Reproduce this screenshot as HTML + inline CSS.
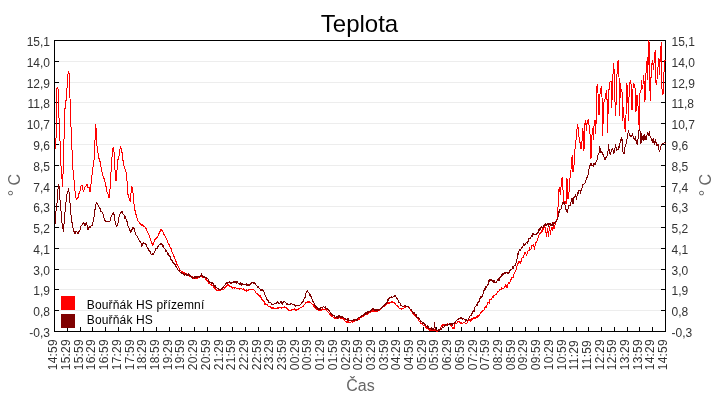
<!DOCTYPE html>
<html><head><meta charset="utf-8"><title>Teplota</title>
<style>
html,body{margin:0;padding:0;background:#fff;}
svg{display:block;}
text{font-family:"Liberation Sans",sans-serif;}
#txt{opacity:0.999;}
.yl{font-size:12px;fill:#333;}
.xl{font-size:12px;fill:#333;letter-spacing:0.2px;}
.ax{font-size:16px;fill:#666;}
.lg{font-size:12px;fill:#000;letter-spacing:0.15px;}
.tt{font-size:24px;fill:#000;}
</style></head><body>
<svg width="720" height="400" viewBox="0 0 720 400">
<rect x="0" y="0" width="720" height="400" fill="#fff"/>
<g stroke="#ededed" stroke-width="1" shape-rendering="crispEdges">
<line x1="54.5" y1="61.5" x2="665.5" y2="61.5"/>
<line x1="54.5" y1="82.5" x2="665.5" y2="82.5"/>
<line x1="54.5" y1="102.5" x2="665.5" y2="102.5"/>
<line x1="54.5" y1="123.5" x2="665.5" y2="123.5"/>
<line x1="54.5" y1="144.5" x2="665.5" y2="144.5"/>
<line x1="54.5" y1="165.5" x2="665.5" y2="165.5"/>
<line x1="54.5" y1="186.5" x2="665.5" y2="186.5"/>
<line x1="54.5" y1="206.5" x2="665.5" y2="206.5"/>
<line x1="54.5" y1="227.5" x2="665.5" y2="227.5"/>
<line x1="54.5" y1="248.5" x2="665.5" y2="248.5"/>
<line x1="54.5" y1="269.5" x2="665.5" y2="269.5"/>
<line x1="54.5" y1="289.5" x2="665.5" y2="289.5"/>
<line x1="54.5" y1="310.5" x2="665.5" y2="310.5"/>
</g>
<g stroke="#000" stroke-width="1" shape-rendering="crispEdges" fill="none">
<rect x="54.5" y="40.5" width="611.0" height="291.0"/>
<line x1="54.5" y1="61.5" x2="59.0" y2="61.5"/><line x1="661.0" y1="61.5" x2="665.5" y2="61.5"/>
<line x1="54.5" y1="82.5" x2="59.0" y2="82.5"/><line x1="661.0" y1="82.5" x2="665.5" y2="82.5"/>
<line x1="54.5" y1="102.5" x2="59.0" y2="102.5"/><line x1="661.0" y1="102.5" x2="665.5" y2="102.5"/>
<line x1="54.5" y1="123.5" x2="59.0" y2="123.5"/><line x1="661.0" y1="123.5" x2="665.5" y2="123.5"/>
<line x1="54.5" y1="144.5" x2="59.0" y2="144.5"/><line x1="661.0" y1="144.5" x2="665.5" y2="144.5"/>
<line x1="54.5" y1="165.5" x2="59.0" y2="165.5"/><line x1="661.0" y1="165.5" x2="665.5" y2="165.5"/>
<line x1="54.5" y1="186.5" x2="59.0" y2="186.5"/><line x1="661.0" y1="186.5" x2="665.5" y2="186.5"/>
<line x1="54.5" y1="206.5" x2="59.0" y2="206.5"/><line x1="661.0" y1="206.5" x2="665.5" y2="206.5"/>
<line x1="54.5" y1="227.5" x2="59.0" y2="227.5"/><line x1="661.0" y1="227.5" x2="665.5" y2="227.5"/>
<line x1="54.5" y1="248.5" x2="59.0" y2="248.5"/><line x1="661.0" y1="248.5" x2="665.5" y2="248.5"/>
<line x1="54.5" y1="269.5" x2="59.0" y2="269.5"/><line x1="661.0" y1="269.5" x2="665.5" y2="269.5"/>
<line x1="54.5" y1="289.5" x2="59.0" y2="289.5"/><line x1="661.0" y1="289.5" x2="665.5" y2="289.5"/>
<line x1="54.5" y1="310.5" x2="59.0" y2="310.5"/><line x1="661.0" y1="310.5" x2="665.5" y2="310.5"/>
<line x1="67.5" y1="327.0" x2="67.5" y2="331.5"/>
<line x1="80.5" y1="327.0" x2="80.5" y2="331.5"/>
<line x1="92.5" y1="327.0" x2="92.5" y2="331.5"/>
<line x1="105.5" y1="327.0" x2="105.5" y2="331.5"/>
<line x1="118.5" y1="327.0" x2="118.5" y2="331.5"/>
<line x1="130.5" y1="327.0" x2="130.5" y2="331.5"/>
<line x1="143.5" y1="327.0" x2="143.5" y2="331.5"/>
<line x1="156.5" y1="327.0" x2="156.5" y2="331.5"/>
<line x1="169.5" y1="327.0" x2="169.5" y2="331.5"/>
<line x1="181.5" y1="327.0" x2="181.5" y2="331.5"/>
<line x1="194.5" y1="327.0" x2="194.5" y2="331.5"/>
<line x1="207.5" y1="327.0" x2="207.5" y2="331.5"/>
<line x1="220.5" y1="327.0" x2="220.5" y2="331.5"/>
<line x1="232.5" y1="327.0" x2="232.5" y2="331.5"/>
<line x1="245.5" y1="327.0" x2="245.5" y2="331.5"/>
<line x1="258.5" y1="327.0" x2="258.5" y2="331.5"/>
<line x1="270.5" y1="327.0" x2="270.5" y2="331.5"/>
<line x1="283.5" y1="327.0" x2="283.5" y2="331.5"/>
<line x1="296.5" y1="327.0" x2="296.5" y2="331.5"/>
<line x1="309.5" y1="327.0" x2="309.5" y2="331.5"/>
<line x1="321.5" y1="327.0" x2="321.5" y2="331.5"/>
<line x1="334.5" y1="327.0" x2="334.5" y2="331.5"/>
<line x1="347.5" y1="327.0" x2="347.5" y2="331.5"/>
<line x1="359.5" y1="327.0" x2="359.5" y2="331.5"/>
<line x1="372.5" y1="327.0" x2="372.5" y2="331.5"/>
<line x1="385.5" y1="327.0" x2="385.5" y2="331.5"/>
<line x1="398.5" y1="327.0" x2="398.5" y2="331.5"/>
<line x1="410.5" y1="327.0" x2="410.5" y2="331.5"/>
<line x1="423.5" y1="327.0" x2="423.5" y2="331.5"/>
<line x1="436.5" y1="327.0" x2="436.5" y2="331.5"/>
<line x1="448.5" y1="327.0" x2="448.5" y2="331.5"/>
<line x1="461.5" y1="327.0" x2="461.5" y2="331.5"/>
<line x1="474.5" y1="327.0" x2="474.5" y2="331.5"/>
<line x1="487.5" y1="327.0" x2="487.5" y2="331.5"/>
<line x1="499.5" y1="327.0" x2="499.5" y2="331.5"/>
<line x1="512.5" y1="327.0" x2="512.5" y2="331.5"/>
<line x1="525.5" y1="327.0" x2="525.5" y2="331.5"/>
<line x1="538.5" y1="327.0" x2="538.5" y2="331.5"/>
<line x1="550.5" y1="327.0" x2="550.5" y2="331.5"/>
<line x1="563.5" y1="327.0" x2="563.5" y2="331.5"/>
<line x1="576.5" y1="327.0" x2="576.5" y2="331.5"/>
<line x1="588.5" y1="327.0" x2="588.5" y2="331.5"/>
<line x1="601.5" y1="327.0" x2="601.5" y2="331.5"/>
<line x1="614.5" y1="327.0" x2="614.5" y2="331.5"/>
<line x1="627.5" y1="327.0" x2="627.5" y2="331.5"/>
<line x1="639.5" y1="327.0" x2="639.5" y2="331.5"/>
<line x1="652.5" y1="327.0" x2="652.5" y2="331.5"/>
</g>
<g id="curves" shape-rendering="crispEdges">
<polyline points="55.2,149.2 55.6,144.4 55.9,139.7 56.3,134.0 56.6,104.7 57.0,87.7 57.5,87.7 58.0,88.7 58.5,102.9 59.0,118.0 59.5,128.4 60.0,140.6 60.5,152.9 61.0,166.2 61.5,173.7 62.0,179.4 62.6,186.9 63.2,169.0 63.6,154.8 64.0,139.7 64.6,112.3 65.1,107.6 65.6,102.9 66.1,100.0 66.6,96.2 67.1,86.8 67.6,77.3 68.0,74.5 68.4,71.7 68.9,72.6 69.4,74.5 70.0,98.1 70.5,112.3 71.0,126.5 71.5,138.8 72.0,150.1 72.5,159.5 73.0,169.9 73.5,174.7 73.9,179.4 74.4,183.2 74.8,188.8 75.2,193.6 75.6,197.3 76.0,198.3 76.4,199.2 76.8,198.3 77.2,198.3 77.6,197.3 78.0,198.3 78.4,196.4 78.8,194.5 79.2,192.6 79.6,192.6 80.1,190.7 80.5,187.9 81.0,186.0 81.5,185.1 82.0,185.1 82.5,187.9 83.0,189.8 83.6,191.7 84.0,189.8 84.4,188.8 84.8,187.9 85.2,186.9 85.6,186.9 86.0,186.0 86.5,185.1 87.0,184.1 87.5,186.0 88.0,187.9 89.4,187.9 90.0,191.7 90.5,187.9 91.0,184.1 91.5,181.3 91.9,175.6 92.4,171.8 92.8,169.0 93.2,166.2 93.6,163.3 94.0,160.5 94.5,150.1 95.0,140.6 95.4,124.6 95.9,127.4 96.4,129.3 97.0,146.3 97.4,148.2 97.8,151.0 98.2,153.9 98.6,154.8 99.0,158.6 99.5,159.5 100.0,161.4 100.5,164.3 101.0,167.1 101.5,169.0 101.9,171.8 102.4,174.7 102.8,174.7 103.2,176.6 103.6,176.6 104.0,178.4 104.4,179.4 104.8,181.3 105.2,182.2 105.6,184.1 106.1,186.9 106.5,188.8 107.0,191.7 107.5,192.6 107.9,193.6 108.4,194.5 108.9,197.3 109.4,197.3 109.9,190.7 110.4,182.2 110.9,173.7 111.4,166.2 111.9,158.6 112.4,150.1 112.9,148.2 113.4,147.3 114.0,152.0 114.5,160.5 115.0,169.9 115.5,175.6 116.0,181.3 116.5,175.6 117.0,169.9 117.5,165.2 118.0,159.5 118.5,157.7 118.9,156.7 119.4,153.9 119.8,151.0 120.2,148.2 120.6,146.3 121.1,148.2 121.6,150.1 122.1,152.9 122.5,155.8 123.0,160.5 123.5,162.4 123.9,165.2 124.4,167.1 124.8,168.0 125.2,169.9 125.6,169.9 126.0,171.8 126.5,176.6 127.0,181.3 127.5,187.9 128.0,194.5 128.5,196.4 129.0,198.3 129.5,199.2 129.9,201.1 130.4,201.1 130.8,195.4 131.2,191.7 131.6,186.9 132.1,187.9 132.6,187.9 133.1,194.5 133.6,202.1 134.1,204.0 134.5,207.7 135.0,210.6 135.5,211.5 135.9,214.3 136.4,215.3 136.8,217.2 137.2,219.1 137.6,220.0 138.0,221.0 138.4,221.9 138.8,221.9 139.2,222.8 139.6,223.8 140.0,223.8 140.4,224.7 140.8,223.8 141.2,225.7 141.6,224.7 142.0,225.7 142.4,225.7 142.8,224.7 143.2,225.7 143.6,225.7 144.0,226.6 144.8,226.6 145.2,227.6 145.6,228.5 146.0,228.5 146.4,230.4 146.8,230.4 147.2,231.4 147.6,232.3 148.0,233.2 148.4,233.2 148.8,234.2 149.2,236.1 149.6,237.0 150.0,238.0 150.4,239.9 150.8,240.8 151.2,241.7 151.6,242.7 152.1,243.6 152.6,245.5 153.1,244.6 153.5,242.7 154.0,241.7 154.4,240.8 154.8,239.9 155.2,239.9 155.6,238.9 156.0,238.0 156.8,238.0 157.2,237.0 157.6,237.0 158.0,236.1 158.4,235.1 158.8,233.2 159.2,233.2 159.6,231.4 160.1,231.4 160.5,230.4 160.9,229.5 161.4,229.5 161.8,230.4 162.2,230.4 162.6,231.4 163.0,232.3 163.4,233.2 163.8,234.2 164.2,234.2 164.6,235.1 165.0,236.1 165.4,237.0 165.8,238.0 166.2,238.0 166.6,238.9 167.0,239.9 167.4,241.7 167.8,241.7 168.2,243.6 168.6,244.6 169.0,244.6 169.4,245.5 169.8,246.5 170.2,247.4 170.6,248.4 171.0,248.4 171.4,249.3 171.8,251.2 172.2,252.1 172.6,253.1 173.0,254.0 173.4,255.0 173.8,255.9 174.2,256.9 174.6,257.8 175.0,258.8 175.4,259.7 175.8,261.6 176.2,261.6 176.6,262.5 177.0,264.4 177.4,264.4 177.8,265.4 178.2,266.3 178.6,267.3 179.0,268.2 179.4,268.2 179.8,269.1 180.2,270.1 180.6,271.0 181.4,271.0 181.8,272.0 182.2,271.0 182.6,272.9 184.6,272.9 185.0,273.9 185.4,274.8 186.3,274.8 186.7,273.9 187.1,274.8 188.8,274.8 189.2,275.8 189.6,275.8 190.0,276.7 190.4,275.8 190.8,276.7 191.6,276.7 192.0,277.6 192.4,276.7 192.8,277.6 193.2,278.6 197.2,278.6 197.6,277.6 198.4,277.6 198.8,276.7 199.2,277.6 199.6,276.7 201.2,276.7 201.6,275.8 202.4,275.8 202.8,277.6 203.2,276.7 204.4,276.7 204.8,277.6 205.2,278.6 205.6,278.6 206.0,279.5 206.4,279.5 206.8,280.5 207.2,281.4 207.6,280.5 208.0,281.4 208.4,283.3 208.8,282.4 209.2,283.3 209.6,283.3 210.0,284.3 211.2,284.3 211.6,285.2 212.8,285.2 213.2,286.1 213.6,287.1 214.4,287.1 214.8,288.0 215.2,289.0 216.0,289.0 216.4,289.9 216.8,289.9 217.2,290.9 220.8,290.9 221.2,289.9 223.6,289.9 224.0,289.0 224.4,289.0 224.8,288.0 225.2,287.1 225.6,287.1 226.0,286.1 226.4,286.1 226.8,285.2 227.2,284.3 227.6,285.2 228.0,284.3 228.4,284.3 228.8,285.2 229.2,285.2 229.6,286.1 231.2,286.1 231.6,287.1 232.0,288.0 232.8,288.0 233.2,287.1 233.6,288.0 234.0,288.0 234.4,287.1 234.9,289.0 235.3,287.1 235.7,288.0 238.3,288.0 238.7,289.0 239.6,289.0 240.0,288.0 241.3,288.0 241.7,289.0 242.1,289.0 242.6,289.9 243.0,289.9 243.4,289.0 243.9,289.9 244.7,289.9 245.1,290.9 246.0,290.9 246.4,291.8 246.8,289.9 247.2,289.9 247.6,290.9 248.4,290.9 248.8,289.9 249.6,289.9 250.0,289.0 250.4,289.9 251.2,289.9 251.6,289.0 253.2,289.0 253.6,289.9 254.0,289.9 254.4,290.9 254.8,290.9 255.2,291.8 255.6,292.8 256.0,292.8 256.4,293.7 257.2,293.7 257.6,294.7 258.0,294.7 258.4,295.6 258.8,294.7 259.2,295.6 259.6,296.5 260.0,295.6 260.4,296.5 260.8,297.5 261.2,297.5 261.6,298.4 262.0,299.4 262.4,299.4 262.8,300.3 263.2,300.3 263.6,301.3 264.0,301.3 264.4,302.2 264.8,304.1 265.2,303.2 265.6,303.2 266.0,305.0 266.4,304.1 266.8,304.1 267.2,305.0 267.6,305.0 268.0,306.0 269.2,306.0 269.6,306.9 270.8,306.9 271.2,307.9 271.6,307.9 272.0,308.8 272.4,307.9 273.6,307.9 274.0,308.8 277.2,308.8 277.6,307.9 278.0,308.8 278.4,307.9 281.2,307.9 281.6,308.8 282.0,307.9 282.8,307.9 283.2,306.9 283.6,307.9 284.0,307.9 284.4,306.9 284.8,307.9 286.4,307.9 286.8,308.8 287.2,307.9 287.6,309.8 288.0,308.8 288.4,310.7 288.8,309.8 289.2,310.7 289.6,310.7 290.0,309.8 290.4,310.7 291.2,310.7 291.6,309.8 293.6,309.8 294.0,308.8 294.4,309.8 294.8,308.8 295.2,309.8 295.6,309.8 296.0,310.7 296.4,309.8 298.4,309.8 298.8,308.8 299.6,308.8 300.0,307.9 301.6,307.9 302.0,306.9 302.4,306.0 303.6,306.0 304.0,305.0 304.4,304.1 304.8,304.1 305.2,303.2 305.6,303.2 306.0,302.2 307.2,302.2 307.6,301.3 308.0,302.2 308.4,302.2 308.8,301.3 309.2,301.3 309.6,302.2 310.8,302.2 311.2,303.2 311.6,303.2 312.0,304.1 312.8,304.1 313.2,305.0 313.6,305.0 314.0,306.9 314.4,306.9 314.8,307.9 315.2,307.9 315.6,308.8 316.4,308.8 316.8,309.8 318.0,309.8 318.4,310.7 318.8,310.7 319.2,309.8 319.6,309.8 320.0,310.7 320.4,309.8 321.2,309.8 321.6,310.7 322.0,309.8 322.4,309.8 322.8,308.8 323.2,309.8 323.6,309.8 324.0,308.8 324.4,309.8 324.8,309.8 325.2,308.8 325.6,309.8 326.4,309.8 326.8,310.7 327.2,311.7 328.0,311.7 328.4,312.6 328.8,312.6 329.2,313.5 329.6,313.5 330.0,314.5 330.4,314.5 330.8,315.4 331.2,315.4 331.6,316.4 332.0,315.4 332.4,316.4 332.8,316.4 333.2,317.3 334.0,317.3 334.4,318.3 337.2,318.3 337.6,317.3 338.4,317.3 338.8,318.3 339.2,317.3 340.0,317.3 340.4,318.3 343.2,318.3 343.6,319.2 344.0,319.2 344.4,320.2 344.8,320.2 345.2,321.1 346.0,321.1 346.4,322.1 347.6,322.1 348.0,321.1 348.4,322.1 349.2,322.1 349.6,323.0 350.0,323.0 350.4,322.1 351.2,322.1 351.6,321.1 352.4,321.1 352.8,322.1 353.2,321.1 355.2,321.1 355.6,319.2 356.0,320.2 356.4,319.2 356.8,319.2 357.2,320.2 357.6,319.2 358.0,319.2 358.4,318.3 358.8,319.2 359.2,319.2 359.6,317.3 361.6,317.3 362.0,316.4 363.2,316.4 363.6,315.4 364.4,315.4 364.8,314.5 366.0,314.5 366.4,313.5 367.2,313.5 367.6,314.5 368.0,313.5 368.4,312.6 368.8,313.5 369.2,312.6 369.6,312.6 370.0,311.7 370.4,311.7 370.8,312.6 371.2,311.7 372.4,311.7 372.8,310.7 373.6,310.7 374.0,311.7 374.8,311.7 375.2,310.7 375.6,311.7 376.0,310.7 376.4,310.7 376.8,311.7 377.2,310.7 377.6,311.7 378.0,310.7 378.4,309.8 378.8,310.7 379.6,310.7 380.0,309.8 380.4,308.8 380.8,309.8 381.2,307.9 381.6,308.8 382.0,307.9 382.4,306.9 383.2,306.9 383.6,306.0 384.0,305.0 384.4,306.0 384.8,306.0 385.2,305.0 385.6,304.1 386.0,305.0 386.4,304.1 386.8,305.0 387.2,303.2 388.0,303.2 388.4,302.2 388.8,303.2 389.2,303.2 389.6,302.2 390.8,302.2 391.2,301.3 391.6,302.2 392.4,302.2 392.8,301.3 393.2,302.2 394.4,302.2 394.8,303.2 395.2,303.2 395.6,304.1 396.0,305.0 396.8,305.0 397.2,306.0 397.6,306.9 398.4,306.9 398.8,307.9 399.2,308.8 400.8,308.8 401.2,309.8 401.6,308.8 402.8,308.8 403.2,307.9 403.6,308.8 404.0,307.9 404.4,306.9 404.8,307.9 405.2,307.9 405.6,306.0 406.0,306.9 406.8,306.9 407.2,306.0 407.6,306.9 408.0,306.9 408.4,307.9 408.8,306.9 409.2,307.9 409.6,308.8 410.0,308.8 410.4,309.8 410.8,310.7 411.2,311.7 412.0,311.7 412.4,313.5 413.6,313.5 414.0,314.5 414.4,314.5 414.8,315.4 415.2,316.4 416.0,316.4 416.4,317.3 416.8,317.3 417.2,318.3 417.6,318.3 418.0,319.2 418.4,320.2 418.8,320.2 419.2,321.1 420.0,321.1 420.4,323.0 421.2,323.0 421.6,323.9 422.0,323.9 422.4,324.9 422.8,324.9 423.2,325.8 424.8,325.8 425.2,326.8 425.6,327.7 426.0,327.7 426.4,328.7 426.8,327.7 427.2,327.7 427.6,328.7 428.0,328.7 428.4,329.6 428.8,328.7 429.2,329.6 429.6,330.6 430.0,329.6 430.4,330.6 430.8,329.6 431.2,330.6 431.6,329.6 432.0,330.6 432.4,329.6 432.8,330.6 433.2,329.6 433.6,330.6 434.4,330.6 434.9,329.6 435.3,330.6 436.6,330.6 437.0,331.5 437.4,330.6 439.0,330.6 439.4,329.6 439.8,329.6 440.2,327.7 440.6,327.7 441.0,326.8 441.4,326.8 441.8,325.8 442.2,325.8 442.6,324.9 443.0,324.9 443.4,325.8 443.8,324.9 444.2,325.8 444.6,324.9 445.0,325.8 446.2,325.8 446.6,324.9 447.4,324.9 447.8,323.9 448.2,324.9 449.8,324.9 450.2,325.8 450.6,325.8 451.0,324.9 451.5,326.8 451.9,326.8 452.4,327.7 452.8,328.7 453.2,327.7 453.6,327.7 454.0,328.7 454.5,325.8 455.0,323.9 455.4,323.0 457.4,323.0 457.8,321.1 458.2,322.1 458.6,321.1 459.0,322.1 459.4,321.1 459.8,322.1 460.2,322.1 460.6,323.0 461.0,322.1 461.4,323.0 463.4,323.0 463.8,322.1 464.2,323.0 464.6,322.1 465.0,323.0 465.8,323.0 466.2,323.9 466.6,323.0 467.0,323.0 467.5,322.1 468.0,321.1 468.4,320.2 469.6,320.2 470.0,319.2 470.4,321.1 470.8,320.2 471.2,320.2 471.6,319.2 472.0,318.3 472.4,318.3 472.8,319.2 473.2,317.3 473.6,318.3 474.4,318.3 474.8,317.3 475.2,318.3 475.6,317.3 476.0,317.3 476.4,316.4 476.8,317.3 477.2,317.3 477.6,315.4 478.0,315.4 478.4,316.4 478.8,316.4 479.2,314.5 479.6,315.4 480.0,314.5 480.4,312.6 480.8,313.5 481.2,312.6 481.6,311.7 482.0,311.7 482.4,310.7 483.6,310.7 484.0,309.8 484.4,309.8 484.8,307.9 485.2,306.9 485.6,306.9 486.0,307.9 486.4,306.0 486.8,305.0 487.2,305.0 487.6,303.2 488.0,302.2 488.8,302.2 489.2,303.2 489.6,301.3 490.0,299.4 491.2,299.4 491.6,298.4 492.0,298.4 492.4,296.5 492.8,297.5 493.2,297.5 493.6,295.6 494.8,295.6 495.2,294.7 495.6,294.7 496.0,293.7 496.4,293.7 496.8,294.7 497.2,291.8 497.6,292.8 498.0,291.8 498.8,291.8 499.2,290.9 499.6,289.9 500.4,289.9 500.8,289.0 501.2,289.9 501.6,288.0 502.0,289.0 502.4,288.0 504.0,288.0 504.4,287.1 504.8,287.1 505.2,286.1 505.6,284.3 506.0,285.2 506.5,287.1 507.0,288.0 507.5,286.1 508.0,284.3 508.4,283.3 508.8,282.4 509.2,283.3 509.6,282.4 510.0,282.4 510.5,279.5 511.0,279.5 511.4,278.6 511.8,277.6 513.0,277.6 513.5,276.7 514.0,273.9 514.4,272.9 514.8,272.9 515.2,271.0 515.6,271.0 516.0,270.1 516.5,269.1 517.0,266.3 517.5,265.4 518.0,263.5 518.4,263.5 518.8,261.6 519.2,262.5 519.6,261.6 520.0,261.6 520.4,263.5 520.8,261.6 521.2,261.6 521.6,258.8 522.1,257.8 523.0,257.8 523.5,255.9 524.0,255.0 524.4,255.0 524.8,252.1 525.2,253.1 525.6,252.1 526.1,254.0 526.5,255.0 527.0,254.0 527.5,252.1 528.0,251.2 528.4,250.2 529.2,250.2 529.6,247.4 530.1,249.3 531.0,249.3 531.5,247.4 532.0,245.5 533.2,245.5 533.6,244.6 534.0,246.5 534.4,249.3 534.8,247.4 535.2,245.5 535.6,242.7 536.5,242.7 537.0,240.8 537.5,240.8 538.0,238.0 538.4,236.1 538.8,236.1 539.2,234.2 539.6,234.2 540.1,233.2 540.5,232.3 541.0,233.2 541.4,232.3 541.8,230.4 542.2,231.4 542.6,229.5 543.0,228.5 543.5,229.5 543.9,227.6 544.4,226.6 544.8,227.6 545.2,227.6 545.6,228.5 546.0,233.2 546.4,237.0 546.9,233.2 547.4,228.5 547.9,232.3 548.4,237.0 548.9,232.3 549.4,226.6 549.9,229.5 550.4,234.2 550.8,231.4 551.2,229.5 551.6,227.6 552.1,227.6 552.6,230.4 553.1,228.5 553.6,222.8 554.0,225.7 554.4,228.5 554.8,226.6 555.2,223.8 555.6,221.0 556.0,221.0 556.4,219.1 556.8,220.0 557.2,220.0 557.6,219.1 558.0,207.7 558.4,192.6 558.8,189.8 559.2,187.9 559.6,187.9 560.0,191.7 560.4,194.5 560.9,188.8 561.4,179.4 561.9,178.4 562.4,177.5 563.0,189.8 563.5,196.4 564.0,204.0 564.5,202.1 565.0,201.1 565.5,201.1 566.0,204.0 566.5,190.7 567.0,178.4 567.5,187.9 568.0,199.2 568.5,194.5 569.0,192.6 569.5,186.0 570.0,178.4 570.5,173.7 571.0,169.9 571.6,157.7 572.0,156.7 572.4,155.8 573.0,171.8 573.6,171.8 574.0,165.2 574.4,156.7 575.0,149.2 575.5,144.4 576.0,140.6 576.5,134.0 577.0,129.3 577.5,124.6 578.0,127.4 578.5,131.2 579.0,136.9 579.5,138.8 580.0,142.5 580.5,145.4 581.0,149.2 581.5,145.4 582.0,141.6 582.4,135.0 582.8,128.4 583.1,132.1 583.5,135.0 584.0,151.0 584.5,123.6 585.0,122.7 585.5,120.8 586.0,124.6 586.5,130.3 587.0,123.6 587.5,120.8 588.0,120.8 588.5,119.9 589.0,124.6 589.5,127.4 589.9,132.1 590.2,137.8 590.6,149.2 591.0,158.6 591.4,149.2 591.8,137.8 592.1,134.0 592.5,128.4 593.0,135.0 593.5,139.7 593.9,130.3 594.2,119.9 594.7,120.8 595.2,119.9 595.5,134.0 595.9,127.4 596.2,119.9 596.5,88.7 597.0,85.9 597.5,84.9 598.0,93.4 598.5,103.8 599.0,115.1 599.5,103.8 600.0,94.4 600.5,88.7 601.0,87.7 601.5,86.8 602.0,97.2 602.4,116.1 602.7,135.9 603.1,119.9 603.5,104.7 604.0,101.9 604.5,101.9 605.0,99.1 605.5,96.2 606.0,93.4 606.5,90.6 606.9,97.2 607.2,102.9 607.5,132.1 608.0,115.1 608.5,100.0 608.9,92.5 609.2,84.9 609.6,83.0 610.1,82.1 610.5,81.1 611.5,81.1 611.8,107.6 612.1,97.2 612.5,85.9 613.0,74.5 613.5,63.2 614.0,68.8 614.5,72.6 615.0,101.9 615.4,108.5 615.8,116.1 616.1,101.0 616.5,85.9 617.0,74.5 617.5,63.2 618.0,61.3 618.5,60.3 619.0,77.3 619.4,96.2 619.8,116.1 620.2,83.0 620.6,85.9 621.0,89.6 621.5,89.6 622.0,91.5 622.6,120.8 623.0,114.2 623.4,107.6 623.8,114.2 624.1,119.9 624.5,125.5 624.9,128.4 625.3,131.2 625.6,122.7 626.0,115.1 626.5,84.0 627.0,84.9 627.5,85.9 628.0,102.9 628.5,120.8 628.9,103.8 629.2,85.9 629.6,84.0 630.1,82.1 630.5,80.2 630.9,83.0 631.2,86.8 631.6,98.1 632.0,110.4 632.5,98.1 633.0,88.7 633.5,84.0 634.0,84.9 634.5,84.9 635.0,87.7 635.5,91.5 636.0,112.3 636.5,95.3 637.5,95.3 637.9,103.8 638.3,111.4 638.6,118.9 639.0,124.6 639.5,129.3 640.0,93.4 640.5,92.5 641.0,90.6 641.5,80.2 642.0,88.7 642.5,86.8 643.0,84.9 643.5,75.5 644.0,80.2 644.5,101.9 644.9,101.0 645.2,99.1 645.8,74.5 646.1,71.7 646.5,67.0 646.9,63.2 647.2,57.5 647.8,79.2 648.1,60.3 648.5,40.5 649.0,42.4 649.5,45.2 649.8,84.0 650.3,101.0 650.8,83.0 651.1,75.5 651.5,67.9 652.0,63.2 652.5,60.3 653.0,65.1 653.5,69.8 654.0,63.2 654.5,54.7 655.0,51.8 655.5,50.9 655.6,77.3 656.2,84.9 656.6,82.1 657.0,80.2 657.5,67.0 658.0,67.0 658.5,66.0 659.0,58.5 659.5,74.5 660.0,62.2 660.5,49.9 661.0,46.2 661.5,42.4 661.8,84.9 662.1,90.6 662.5,94.4 662.9,93.4 663.2,93.4 663.8,85.9 664.0,72.6 664.5,60.3 665.0,60.3 665.5,60.0" fill="none" stroke="#ff0000" stroke-width="1" stroke-linejoin="round"/>
<polyline points="55.0,224.7 55.5,219.1 56.0,211.5 56.5,207.7 57.0,203.0 57.6,196.4 58.2,186.0 58.8,184.1 59.3,187.9 59.7,195.4 60.0,200.2 60.4,204.9 60.9,210.6 61.4,214.3 61.9,221.0 62.4,228.5 62.9,228.5 63.4,231.4 63.9,225.7 64.4,219.1 64.8,214.3 65.2,209.6 65.6,205.8 66.1,201.1 66.5,199.2 67.0,194.5 67.6,192.6 68.1,190.7 68.6,188.8 69.0,191.7 69.4,194.5 70.0,203.0 70.5,210.6 71.0,215.3 71.5,218.1 71.9,221.9 72.4,224.7 72.8,226.6 73.2,228.5 73.6,230.4 74.0,231.4 74.5,233.2 75.0,234.2 75.5,231.4 76.8,231.4 77.2,232.3 77.6,233.2 78.4,233.2 78.8,231.4 79.2,231.4 79.6,230.4 80.1,229.5 80.5,226.6 81.0,225.7 81.5,225.7 82.0,224.7 82.4,223.8 83.2,223.8 83.6,222.8 84.1,222.8 84.5,224.7 85.0,225.7 85.5,223.8 85.9,223.8 86.4,222.8 86.8,224.7 87.2,225.7 87.6,227.6 88.0,229.5 88.5,228.5 88.9,227.6 89.4,227.6 89.8,226.6 90.2,226.6 90.6,227.6 91.0,225.7 91.9,225.7 92.4,224.7 92.8,223.8 93.2,221.0 93.6,220.0 94.1,216.2 94.5,212.5 95.0,209.6 95.5,206.8 95.9,204.9 96.4,202.1 96.8,203.0 97.2,203.0 97.6,204.0 98.0,204.9 98.4,205.8 98.8,205.8 99.2,207.7 99.6,207.7 100.1,208.7 100.5,210.6 101.0,211.5 101.8,211.5 102.2,212.5 102.6,212.5 103.1,214.3 103.5,216.2 104.0,218.1 104.4,219.1 104.8,220.0 105.2,221.0 105.6,221.0 106.1,221.9 106.5,221.0 107.9,221.0 108.4,221.9 109.2,221.9 109.6,221.0 110.0,221.0 110.5,219.1 110.9,217.2 111.4,216.2 111.8,216.2 112.2,213.4 112.6,213.4 113.1,212.5 113.5,214.3 114.0,214.3 114.5,217.2 115.0,221.0 115.5,223.8 115.9,224.7 116.4,226.6 116.8,226.6 117.2,225.7 117.6,225.7 118.1,222.8 118.5,220.0 119.0,217.2 119.5,215.3 119.9,214.3 120.4,213.4 120.8,213.4 121.2,211.5 121.6,212.5 122.0,211.5 122.4,212.5 122.8,213.4 123.2,214.3 123.6,214.3 124.1,215.3 124.5,218.1 125.0,217.2 125.4,216.2 125.8,219.1 126.6,219.1 127.1,221.9 127.5,222.8 128.0,225.7 128.5,226.6 128.9,227.6 129.4,229.5 129.8,230.4 130.2,230.4 130.6,232.3 131.1,231.4 131.5,230.4 132.0,229.5 132.5,228.5 133.0,227.6 133.5,227.6 134.0,228.5 134.4,230.4 134.8,231.4 135.2,233.2 135.6,234.2 136.1,235.1 136.5,235.1 137.0,236.1 137.4,236.1 137.8,237.0 138.2,238.9 138.6,239.9 139.0,239.9 139.4,240.8 139.8,241.7 140.2,242.7 140.6,241.7 141.0,242.7 141.5,244.6 142.0,246.5 142.5,244.6 143.0,242.7 143.5,242.7 144.0,243.6 144.8,243.6 145.2,244.6 145.6,243.6 146.0,244.6 146.4,245.5 146.8,246.5 147.2,247.4 147.6,248.4 148.0,248.4 148.4,249.3 148.8,250.2 149.2,250.2 149.6,251.2 150.0,251.2 150.4,252.1 150.8,253.1 151.2,255.0 151.6,254.0 152.8,254.0 153.2,253.1 153.6,254.0 154.0,253.1 154.4,252.1 154.8,252.1 155.2,250.2 155.6,249.3 156.0,248.4 157.2,248.4 157.6,246.5 158.4,246.5 158.8,245.5 159.2,244.6 160.0,244.6 160.4,243.6 161.2,243.6 161.6,244.6 162.5,244.6 163.0,246.5 163.4,245.5 163.8,247.4 164.2,248.4 164.6,248.4 165.0,249.3 165.4,249.3 165.8,251.2 166.2,250.2 166.6,251.2 167.0,252.1 167.4,253.1 167.8,254.0 168.2,255.0 168.6,254.0 169.0,255.9 169.4,255.9 169.8,256.9 170.2,257.8 170.6,256.9 171.0,259.7 171.4,259.7 171.8,260.6 172.6,260.6 173.0,262.5 173.4,263.5 174.2,263.5 174.6,264.4 175.4,264.4 175.8,266.3 176.2,266.3 176.6,267.3 177.0,268.2 177.4,269.1 177.8,269.1 178.2,270.1 178.6,270.1 179.0,271.0 179.4,270.1 179.8,272.0 180.6,272.0 181.0,272.9 181.4,272.9 181.8,273.9 183.0,273.9 183.4,274.8 183.8,273.9 184.2,274.8 184.6,275.8 185.0,274.8 185.4,274.8 185.8,273.9 186.2,274.8 186.6,274.8 187.0,275.8 187.4,274.8 187.8,275.8 188.2,274.8 188.6,273.9 189.0,275.8 189.4,274.8 189.8,274.8 190.2,275.8 190.6,275.8 191.0,276.7 191.4,276.7 191.8,277.6 192.2,277.6 192.6,278.6 193.0,276.7 193.4,277.6 193.8,277.6 194.2,278.6 194.6,276.7 195.0,277.6 195.4,276.7 196.2,276.7 196.6,277.6 197.0,276.7 197.4,277.6 197.8,276.7 199.0,276.7 199.4,277.6 199.8,276.7 200.2,276.7 200.6,275.8 201.0,274.8 201.4,273.9 201.8,275.8 202.2,275.8 202.6,276.7 203.0,275.8 203.4,276.7 203.8,277.6 204.2,277.6 204.6,276.7 205.0,277.6 205.8,277.6 206.2,278.6 206.6,277.6 207.0,278.6 207.8,278.6 208.2,279.5 208.6,281.4 209.0,281.4 209.4,282.4 209.8,281.4 210.2,282.4 211.0,282.4 211.4,283.3 211.8,283.3 212.2,282.4 212.6,283.3 213.0,283.3 213.4,284.3 213.8,285.2 214.2,285.2 214.6,286.1 215.0,285.2 215.4,287.1 215.8,286.1 216.2,288.0 216.6,287.1 217.0,288.0 217.8,288.0 218.2,289.0 218.6,289.0 219.0,289.9 219.4,289.0 221.8,289.0 222.2,288.0 222.6,287.1 223.0,288.0 223.4,287.1 223.8,286.1 224.2,286.1 224.6,285.2 225.0,285.2 225.4,283.3 226.6,283.3 227.0,282.4 227.4,283.3 227.8,282.4 229.4,282.4 229.8,281.4 230.2,283.3 230.6,283.3 231.0,282.4 231.4,282.4 231.8,283.3 232.2,282.4 233.0,282.4 233.4,281.4 233.8,282.4 234.2,281.4 234.6,281.4 235.0,282.4 235.4,281.4 235.8,282.4 236.2,283.3 236.6,281.4 237.0,283.3 237.4,281.4 237.8,282.4 238.2,283.3 238.6,283.3 239.0,284.3 239.4,283.3 239.8,284.3 240.2,282.4 240.6,284.3 241.0,283.3 241.4,285.2 241.8,284.3 242.2,283.3 242.6,284.3 244.6,284.3 245.0,285.2 245.4,284.3 245.8,284.3 246.2,283.3 246.6,285.2 247.4,285.2 247.8,284.3 248.2,284.3 248.6,285.2 249.0,284.3 249.4,285.2 249.8,284.3 250.2,284.3 250.6,283.3 251.0,284.3 251.4,283.3 251.8,282.4 253.0,282.4 253.4,283.3 253.8,282.4 254.2,282.4 254.6,283.3 255.0,283.3 255.4,284.3 255.8,284.3 256.2,285.2 256.6,285.2 257.0,286.1 257.4,287.1 257.8,287.1 258.2,286.1 258.6,287.1 259.0,288.0 259.4,288.0 259.8,289.0 260.2,289.0 260.6,289.9 261.0,290.9 261.4,289.9 261.8,289.9 262.2,289.0 262.6,290.9 263.5,290.9 264.0,291.8 264.5,293.7 265.0,294.7 265.4,296.5 265.8,295.6 266.2,297.5 266.6,298.4 267.0,300.3 267.4,300.3 267.8,299.4 268.2,301.3 268.6,302.2 270.6,302.2 271.0,303.2 271.4,303.2 271.8,304.1 272.2,305.0 272.6,304.1 273.8,304.1 274.2,303.2 276.2,303.2 276.6,302.2 277.0,302.2 277.4,301.3 277.8,302.2 278.2,303.2 278.6,302.2 279.0,303.2 279.8,303.2 280.2,302.2 280.6,302.2 281.0,301.3 281.4,302.2 281.8,303.2 282.2,303.2 282.6,304.1 283.0,302.2 283.5,302.2 283.9,301.3 284.8,301.3 285.2,302.2 285.6,302.2 286.0,303.2 286.4,304.1 286.8,303.2 287.2,303.2 287.6,305.0 288.0,304.1 288.4,305.0 288.8,304.1 289.2,305.0 289.6,304.1 290.5,304.1 291.0,303.2 291.8,303.2 292.2,304.1 292.6,304.1 293.0,305.0 293.4,304.1 293.8,304.1 294.2,305.0 295.4,305.0 295.8,306.9 296.2,305.0 296.6,305.0 297.0,306.0 297.4,306.0 297.8,305.0 300.2,305.0 300.6,304.1 301.0,304.1 301.4,303.2 301.8,302.2 302.2,302.2 302.6,301.3 303.0,302.2 303.4,300.3 303.8,299.4 304.2,298.4 304.6,297.5 305.0,297.5 305.5,296.5 305.9,293.7 306.4,291.8 306.9,290.9 307.4,290.9 307.8,291.8 308.2,292.8 309.0,292.8 309.4,294.7 309.8,295.6 310.2,294.7 310.6,295.6 311.0,296.5 311.5,297.5 311.9,298.4 312.4,300.3 312.8,301.3 313.2,301.3 313.6,302.2 314.0,303.2 314.4,303.2 314.8,305.0 315.2,306.0 315.6,306.0 316.0,307.9 316.4,306.9 316.8,307.9 317.2,307.9 317.6,308.8 318.0,309.8 318.4,308.8 318.8,309.8 319.2,309.8 319.6,308.8 320.0,309.8 320.4,308.8 320.8,307.9 321.6,307.9 322.0,306.9 322.4,307.9 322.8,307.9 323.2,306.9 324.0,306.9 324.4,307.9 325.2,307.9 325.6,306.9 326.0,308.8 327.2,308.8 327.6,309.8 328.0,308.8 328.4,310.7 329.2,310.7 329.6,311.7 330.0,311.7 330.4,312.6 330.8,313.5 331.2,314.5 331.6,313.5 332.0,314.5 332.4,314.5 332.8,315.4 334.0,315.4 334.4,316.4 334.8,316.4 335.2,317.3 336.4,317.3 336.8,316.4 337.2,318.3 337.6,316.4 338.0,316.4 338.4,315.4 338.8,317.3 339.2,316.4 339.6,315.4 340.0,316.4 340.4,317.3 340.8,316.4 341.2,317.3 341.6,316.4 342.4,316.4 342.8,317.3 343.6,317.3 344.0,318.3 345.2,318.3 345.6,319.2 346.8,319.2 347.2,320.2 347.6,319.2 348.0,318.3 348.4,319.2 348.8,320.2 353.2,320.2 353.6,319.2 354.0,319.2 354.4,320.2 354.8,319.2 355.6,319.2 356.0,320.2 356.4,319.2 356.8,320.2 357.2,320.2 357.6,318.3 358.0,318.3 358.4,317.3 360.0,317.3 360.4,316.4 360.8,317.3 361.2,316.4 361.6,316.4 362.0,315.4 362.8,315.4 363.2,314.5 363.6,314.5 364.0,315.4 364.4,313.5 364.8,314.5 365.2,314.5 365.6,312.6 366.0,313.5 366.4,312.6 366.8,312.6 367.2,313.5 367.6,311.7 368.0,311.7 368.4,312.6 368.8,311.7 370.4,311.7 370.8,310.7 371.2,310.7 371.6,309.8 372.4,309.8 372.8,308.8 373.2,309.8 373.6,308.8 374.0,309.8 374.4,309.8 374.8,310.7 375.2,309.8 375.6,310.7 376.0,310.7 376.4,309.8 376.8,309.8 377.2,310.7 377.6,309.8 378.0,310.7 378.4,310.7 378.8,309.8 379.6,309.8 380.0,308.8 381.2,308.8 381.6,307.9 382.4,307.9 382.8,306.9 383.2,306.9 383.6,305.0 384.8,305.0 385.2,304.1 385.6,303.2 386.4,303.2 386.8,302.2 387.2,302.2 387.6,300.3 388.0,299.4 388.4,300.3 388.8,298.4 389.6,298.4 390.0,297.5 390.8,297.5 391.2,296.5 391.6,297.5 392.8,297.5 393.2,296.5 394.4,296.5 394.8,295.6 395.2,295.6 395.6,296.5 396.1,297.5 396.5,297.5 397.0,298.4 397.4,298.4 397.8,299.4 398.2,300.3 398.6,302.2 399.8,302.2 400.2,304.1 400.6,304.1 401.0,306.0 401.4,305.0 401.8,306.0 402.2,306.0 402.6,306.9 403.0,306.0 404.4,306.0 404.8,305.0 405.2,306.0 405.6,306.9 406.0,306.0 406.4,306.0 406.8,306.9 407.6,306.9 408.0,306.0 408.4,306.0 408.8,306.9 409.2,308.8 410.0,308.8 410.4,309.8 410.8,309.8 411.2,310.7 411.6,309.8 412.0,310.7 412.4,311.7 412.8,312.6 413.2,313.5 413.6,312.6 414.0,312.6 414.4,313.5 414.8,313.5 415.2,314.5 415.6,315.4 416.0,314.5 416.4,315.4 416.8,317.3 418.0,317.3 418.4,318.3 419.2,318.3 419.6,319.2 420.0,320.2 420.4,321.1 421.6,321.1 422.0,322.1 422.4,322.1 422.8,323.0 423.2,323.9 423.6,323.0 424.0,323.9 424.4,323.9 424.8,324.9 425.2,324.9 425.6,325.8 426.0,325.8 426.4,326.8 427.2,326.8 427.6,325.8 428.0,327.7 428.4,326.8 428.8,328.7 430.8,328.7 431.2,327.7 431.6,329.6 432.4,329.6 432.8,328.7 433.2,329.6 433.6,328.7 434.0,328.7 434.6,322.1 435.2,328.7 435.6,329.6 436.6,329.6 437.0,330.6 438.2,330.6 438.6,329.6 439.0,330.6 439.4,330.6 439.8,329.6 440.2,329.6 440.6,328.7 441.0,329.6 441.4,328.7 441.8,328.7 442.2,327.7 442.6,326.8 443.0,327.7 443.8,327.7 444.2,326.8 444.6,325.8 445.4,325.8 445.8,324.9 447.0,324.9 447.4,325.8 447.8,324.9 448.2,323.9 448.6,324.9 449.0,324.9 449.4,323.9 449.8,324.9 450.2,324.9 450.6,323.9 451.0,324.9 451.4,323.9 451.8,324.9 452.2,325.8 452.6,323.9 453.8,323.9 454.2,323.0 454.6,322.1 455.0,323.0 455.4,321.1 455.8,321.1 456.2,320.2 457.0,320.2 457.4,319.2 457.8,319.2 458.2,318.3 458.6,319.2 459.0,318.3 460.6,318.3 461.0,317.3 461.4,317.3 461.8,318.3 462.2,318.3 462.6,319.2 463.0,319.2 463.4,318.3 463.8,318.3 464.2,319.2 465.4,319.2 465.8,321.1 466.2,320.2 466.6,319.2 467.0,320.2 467.9,320.2 468.4,318.3 468.8,318.3 469.2,317.3 469.6,316.4 470.0,316.4 470.4,315.4 471.2,315.4 471.6,313.5 472.0,314.5 472.4,312.6 472.8,311.7 473.2,310.7 473.6,311.7 474.0,311.7 474.5,308.8 475.0,306.9 475.4,306.9 475.8,306.0 476.2,306.0 476.6,304.1 477.0,306.0 477.4,305.0 477.8,302.2 478.2,302.2 478.6,301.3 479.0,302.2 479.5,300.3 480.0,298.4 480.4,298.4 480.8,296.5 481.2,297.5 481.6,296.5 482.0,297.5 482.5,295.6 483.0,293.7 483.5,291.8 483.9,289.9 484.4,290.9 484.8,288.0 485.2,288.0 485.6,289.0 486.0,286.1 486.4,287.1 486.8,286.1 487.2,285.2 487.6,284.3 488.0,285.2 488.5,281.4 489.0,280.5 489.5,281.4 489.9,279.5 490.4,279.5 490.8,280.5 491.2,280.5 491.6,279.5 492.0,280.5 492.4,281.4 492.8,280.5 493.2,282.4 493.6,281.4 494.0,280.5 494.4,282.4 496.0,282.4 496.4,281.4 496.8,282.4 497.2,280.5 497.6,279.5 498.0,279.5 498.4,280.5 498.8,278.6 499.2,280.5 499.6,278.6 500.0,277.6 500.4,276.7 500.8,277.6 501.2,276.7 501.6,274.8 502.0,274.8 502.4,273.9 502.8,275.8 503.2,274.8 503.6,273.9 504.0,273.9 504.4,272.9 504.8,273.9 505.2,272.9 505.6,273.9 506.0,272.0 506.4,272.0 506.8,272.9 507.2,272.0 507.6,272.9 508.0,273.9 508.4,272.9 508.8,272.0 509.6,272.0 510.0,270.1 510.4,270.1 510.8,269.1 512.0,269.1 512.4,267.3 512.8,266.3 513.2,268.2 513.6,266.3 514.0,266.3 514.4,265.4 515.2,265.4 515.6,264.4 516.0,263.5 516.5,261.6 517.0,258.8 517.5,256.9 518.0,253.1 518.5,254.0 519.0,251.2 519.5,250.2 519.9,249.3 520.4,250.2 520.8,250.2 521.2,248.4 521.6,247.4 522.0,247.4 522.4,246.5 522.8,247.4 523.2,245.5 523.6,245.5 524.0,243.6 524.4,244.6 524.8,245.5 525.2,243.6 525.6,243.6 526.0,242.7 526.8,242.7 527.2,243.6 527.6,241.7 528.0,241.7 528.5,239.9 529.0,238.0 529.4,238.0 529.8,238.9 530.2,238.0 530.6,237.0 531.0,237.0 531.4,235.1 531.8,235.1 532.2,234.2 532.6,236.1 533.0,233.2 533.4,234.2 533.8,234.2 534.2,235.1 534.6,234.2 536.6,234.2 537.0,233.2 537.4,233.2 537.8,232.3 538.2,232.3 538.6,231.4 539.0,229.5 539.4,228.5 539.8,230.4 540.2,229.5 540.6,228.5 541.0,227.6 541.4,227.6 541.8,226.6 542.2,227.6 543.0,227.6 543.4,225.7 544.2,225.7 544.6,224.7 545.0,225.7 545.4,223.8 545.8,224.7 546.2,224.7 546.6,225.7 547.0,224.7 547.4,224.7 547.8,223.8 548.2,226.6 548.6,223.8 549.0,223.8 549.4,224.7 549.8,223.8 550.2,224.7 550.6,223.8 551.0,225.7 551.8,225.7 552.2,222.8 552.6,225.7 553.0,225.7 553.4,224.7 553.8,223.8 554.2,223.8 554.6,222.8 555.0,221.9 555.4,221.9 555.8,222.8 556.2,221.0 556.6,221.0 557.0,220.0 557.5,219.1 558.0,217.2 558.5,215.3 559.0,211.5 559.4,212.5 559.8,209.6 560.6,209.6 561.0,208.7 561.5,206.8 562.0,204.9 562.4,203.0 562.8,204.9 563.2,203.0 563.6,203.0 564.1,202.1 564.5,204.0 565.0,204.9 565.5,206.8 566.0,209.6 566.5,209.6 566.9,211.5 567.4,212.5 567.9,209.6 568.4,206.8 568.8,205.8 570.0,205.8 570.5,204.0 571.0,202.1 571.5,200.2 572.0,198.3 572.5,201.1 573.0,204.0 573.5,200.2 574.0,197.3 574.4,197.3 574.8,196.4 575.2,195.4 575.6,194.5 576.0,196.4 576.4,199.2 576.8,196.4 577.2,195.4 577.6,192.6 578.1,193.6 578.5,190.7 579.0,189.8 579.5,190.7 579.9,190.7 580.4,193.6 580.8,190.7 581.2,190.7 581.6,189.8 582.0,187.9 582.5,186.9 583.0,184.1 583.9,184.1 584.4,183.2 584.8,183.2 585.2,182.2 585.6,181.3 586.0,180.3 586.5,178.4 587.0,177.5 587.5,176.6 588.0,174.7 588.5,170.9 589.0,169.0 589.5,168.0 590.0,165.2 590.5,165.2 591.0,163.3 591.5,165.2 592.8,165.2 593.2,166.2 593.6,165.2 594.0,163.3 594.4,164.3 595.6,164.3 596.1,161.4 596.5,160.5 597.0,160.5 597.5,157.7 598.0,154.8 598.5,153.9 599.0,152.9 599.5,146.3 600.0,148.2 600.4,152.0 600.8,152.0 601.2,151.0 601.6,152.9 602.0,152.9 602.4,153.9 602.8,152.9 603.2,155.8 603.6,155.8 604.1,157.7 604.5,158.6 605.0,159.5 605.5,158.6 605.9,157.7 606.4,156.7 607.0,156.7 607.5,152.0 608.0,151.0 608.5,144.4 609.0,149.2 609.5,152.9 610.0,153.9 610.5,154.8 611.0,152.0 611.5,150.1 612.0,149.2 612.5,148.2 613.0,150.1 613.5,153.9 614.0,152.9 614.5,151.0 615.0,148.2 615.5,144.4 616.0,147.3 616.5,150.1 617.0,150.1 617.5,149.2 618.0,150.1 618.5,148.2 619.0,146.3 619.5,147.3 620.0,143.5 620.5,139.7 621.0,140.6 621.5,137.8 622.0,138.8 622.5,141.6 623.0,152.0 623.5,152.9 624.0,153.9 624.5,150.1 625.0,147.3 625.5,146.3 626.0,144.4 626.5,142.5 627.0,138.8 627.5,136.9 628.0,133.1 628.5,130.3 629.0,133.1 629.5,134.0 630.0,135.9 630.5,135.9 631.0,136.9 631.5,135.9 632.0,135.9 632.5,134.0 633.0,135.9 633.5,138.8 634.0,138.8 634.5,139.7 635.0,137.8 635.5,136.9 636.0,140.6 636.5,140.6 636.9,143.5 637.2,144.4 637.6,142.5 638.0,138.8 638.4,134.0 638.8,130.3 639.1,131.2 639.5,129.3 639.9,130.3 640.2,133.1 640.6,137.8 641.0,143.5 641.4,138.8 641.8,133.1 642.1,136.9 642.5,139.7 642.9,137.8 643.2,135.0 643.6,138.8 644.0,140.6 644.4,136.9 644.8,134.0 645.1,136.9 645.5,139.7 646.5,139.7 646.9,135.9 647.2,133.1 647.8,132.1 648.1,133.1 648.5,135.9 648.9,134.0 649.2,131.2 649.6,133.1 650.0,135.9 650.5,136.9 651.0,137.8 651.5,139.7 652.0,140.6 652.4,139.7 652.8,142.5 653.1,139.7 653.5,138.8 653.9,142.5 654.3,144.4 654.8,142.5 655.2,139.7 655.6,140.6 656.0,142.5 656.5,144.4 657.0,146.3 657.5,145.4 658.0,144.4 658.4,147.3 658.8,149.2 659.1,150.1 659.5,152.0 659.9,151.0 660.2,149.2 660.6,148.2 661.0,146.3 661.4,145.4 661.8,144.4 662.2,143.5 663.8,143.5 664.2,142.5 664.7,142.5 665.1,143.5 665.5,143.5" fill="none" stroke="#7f0000" stroke-width="1" stroke-linejoin="round"/>
</g>
<g id="txt">
<text class="yl" x="50" y="45.6" text-anchor="end">15,1</text><text class="yl" x="671.5" y="45.6">15,1</text>
<text class="yl" x="50" y="66.6" text-anchor="end">14,0</text><text class="yl" x="671.5" y="66.6">14,0</text>
<text class="yl" x="50" y="87.6" text-anchor="end">12,9</text><text class="yl" x="671.5" y="87.6">12,9</text>
<text class="yl" x="50" y="107.6" text-anchor="end">11,8</text><text class="yl" x="671.5" y="107.6">11,8</text>
<text class="yl" x="50" y="128.6" text-anchor="end">10,7</text><text class="yl" x="671.5" y="128.6">10,7</text>
<text class="yl" x="50" y="149.6" text-anchor="end">9,6</text><text class="yl" x="671.5" y="149.6">9,6</text>
<text class="yl" x="50" y="170.6" text-anchor="end">8,5</text><text class="yl" x="671.5" y="170.6">8,5</text>
<text class="yl" x="50" y="191.6" text-anchor="end">7,4</text><text class="yl" x="671.5" y="191.6">7,4</text>
<text class="yl" x="50" y="211.6" text-anchor="end">6,3</text><text class="yl" x="671.5" y="211.6">6,3</text>
<text class="yl" x="50" y="232.6" text-anchor="end">5,2</text><text class="yl" x="671.5" y="232.6">5,2</text>
<text class="yl" x="50" y="253.6" text-anchor="end">4,1</text><text class="yl" x="671.5" y="253.6">4,1</text>
<text class="yl" x="50" y="274.6" text-anchor="end">3,0</text><text class="yl" x="671.5" y="274.6">3,0</text>
<text class="yl" x="50" y="294.6" text-anchor="end">1,9</text><text class="yl" x="671.5" y="294.6">1,9</text>
<text class="yl" x="50" y="315.6" text-anchor="end">0,8</text><text class="yl" x="671.5" y="315.6">0,8</text>
<text class="yl" x="50" y="336.6" text-anchor="end">-0,3</text><text class="yl" x="671.5" y="336.6">-0,3</text>
<text class="xl" transform="translate(57.3,370.2) rotate(-90)">14:59</text>
<text class="xl" transform="translate(70.0,370.2) rotate(-90)">15:29</text>
<text class="xl" transform="translate(82.7,370.2) rotate(-90)">15:59</text>
<text class="xl" transform="translate(95.4,370.2) rotate(-90)">16:29</text>
<text class="xl" transform="translate(108.1,370.2) rotate(-90)">16:59</text>
<text class="xl" transform="translate(120.8,370.2) rotate(-90)">17:29</text>
<text class="xl" transform="translate(133.5,370.2) rotate(-90)">17:59</text>
<text class="xl" transform="translate(146.2,370.2) rotate(-90)">18:29</text>
<text class="xl" transform="translate(158.9,370.2) rotate(-90)">18:59</text>
<text class="xl" transform="translate(171.6,370.2) rotate(-90)">19:29</text>
<text class="xl" transform="translate(184.3,370.2) rotate(-90)">19:59</text>
<text class="xl" transform="translate(197.0,370.2) rotate(-90)">20:29</text>
<text class="xl" transform="translate(209.8,370.2) rotate(-90)">20:59</text>
<text class="xl" transform="translate(222.5,370.2) rotate(-90)">21:29</text>
<text class="xl" transform="translate(235.2,370.2) rotate(-90)">21:59</text>
<text class="xl" transform="translate(247.9,370.2) rotate(-90)">22:29</text>
<text class="xl" transform="translate(260.6,370.2) rotate(-90)">22:59</text>
<text class="xl" transform="translate(273.3,370.2) rotate(-90)">23:29</text>
<text class="xl" transform="translate(286.0,370.2) rotate(-90)">23:59</text>
<text class="xl" transform="translate(298.7,370.2) rotate(-90)">00:29</text>
<text class="xl" transform="translate(311.4,370.2) rotate(-90)">00:59</text>
<text class="xl" transform="translate(324.1,370.2) rotate(-90)">01:29</text>
<text class="xl" transform="translate(336.8,370.2) rotate(-90)">01:59</text>
<text class="xl" transform="translate(349.5,370.2) rotate(-90)">02:29</text>
<text class="xl" transform="translate(362.2,370.2) rotate(-90)">02:59</text>
<text class="xl" transform="translate(374.9,370.2) rotate(-90)">03:29</text>
<text class="xl" transform="translate(387.6,370.2) rotate(-90)">03:59</text>
<text class="xl" transform="translate(400.3,370.2) rotate(-90)">04:29</text>
<text class="xl" transform="translate(413.0,370.2) rotate(-90)">04:59</text>
<text class="xl" transform="translate(425.7,370.2) rotate(-90)">05:29</text>
<text class="xl" transform="translate(438.4,370.2) rotate(-90)">05:59</text>
<text class="xl" transform="translate(451.1,370.2) rotate(-90)">06:29</text>
<text class="xl" transform="translate(463.8,370.2) rotate(-90)">06:59</text>
<text class="xl" transform="translate(476.5,370.2) rotate(-90)">07:29</text>
<text class="xl" transform="translate(489.2,370.2) rotate(-90)">07:59</text>
<text class="xl" transform="translate(501.9,370.2) rotate(-90)">08:29</text>
<text class="xl" transform="translate(514.6,370.2) rotate(-90)">08:59</text>
<text class="xl" transform="translate(527.4,370.2) rotate(-90)">09:29</text>
<text class="xl" transform="translate(540.1,370.2) rotate(-90)">09:59</text>
<text class="xl" transform="translate(552.8,370.2) rotate(-90)">10:29</text>
<text class="xl" transform="translate(565.5,370.2) rotate(-90)">10:59</text>
<text class="xl" transform="translate(578.2,370.2) rotate(-90)">11:29</text>
<text class="xl" transform="translate(590.9,370.2) rotate(-90)">11:59</text>
<text class="xl" transform="translate(603.6,370.2) rotate(-90)">12:29</text>
<text class="xl" transform="translate(616.3,370.2) rotate(-90)">12:59</text>
<text class="xl" transform="translate(629.0,370.2) rotate(-90)">13:29</text>
<text class="xl" transform="translate(641.7,370.2) rotate(-90)">13:59</text>
<text class="xl" transform="translate(654.4,370.2) rotate(-90)">14:29</text>
<text class="xl" transform="translate(667.1,370.2) rotate(-90)">14:59</text>
<text class="ax" transform="translate(19.6,196.3) rotate(-90)">° C</text>
<text class="ax" transform="translate(711.2,196.3) rotate(-90)">° C</text>
<text class="ax" x="360.5" y="390.7" text-anchor="middle">Čas</text>
<text class="tt" x="359.5" y="31.6" text-anchor="middle">Teplota</text>
<rect x="61" y="296" width="14" height="14" fill="#ff0000" shape-rendering="crispEdges"/>
<rect x="61" y="314" width="14" height="14" fill="#7f0000" shape-rendering="crispEdges"/>
<text class="lg" x="86.8" y="308.5">Bouřňák HS přízemní</text>
<text class="lg" x="86.8" y="324">Bouřňák HS</text>
</g>
</svg>
</body></html>
